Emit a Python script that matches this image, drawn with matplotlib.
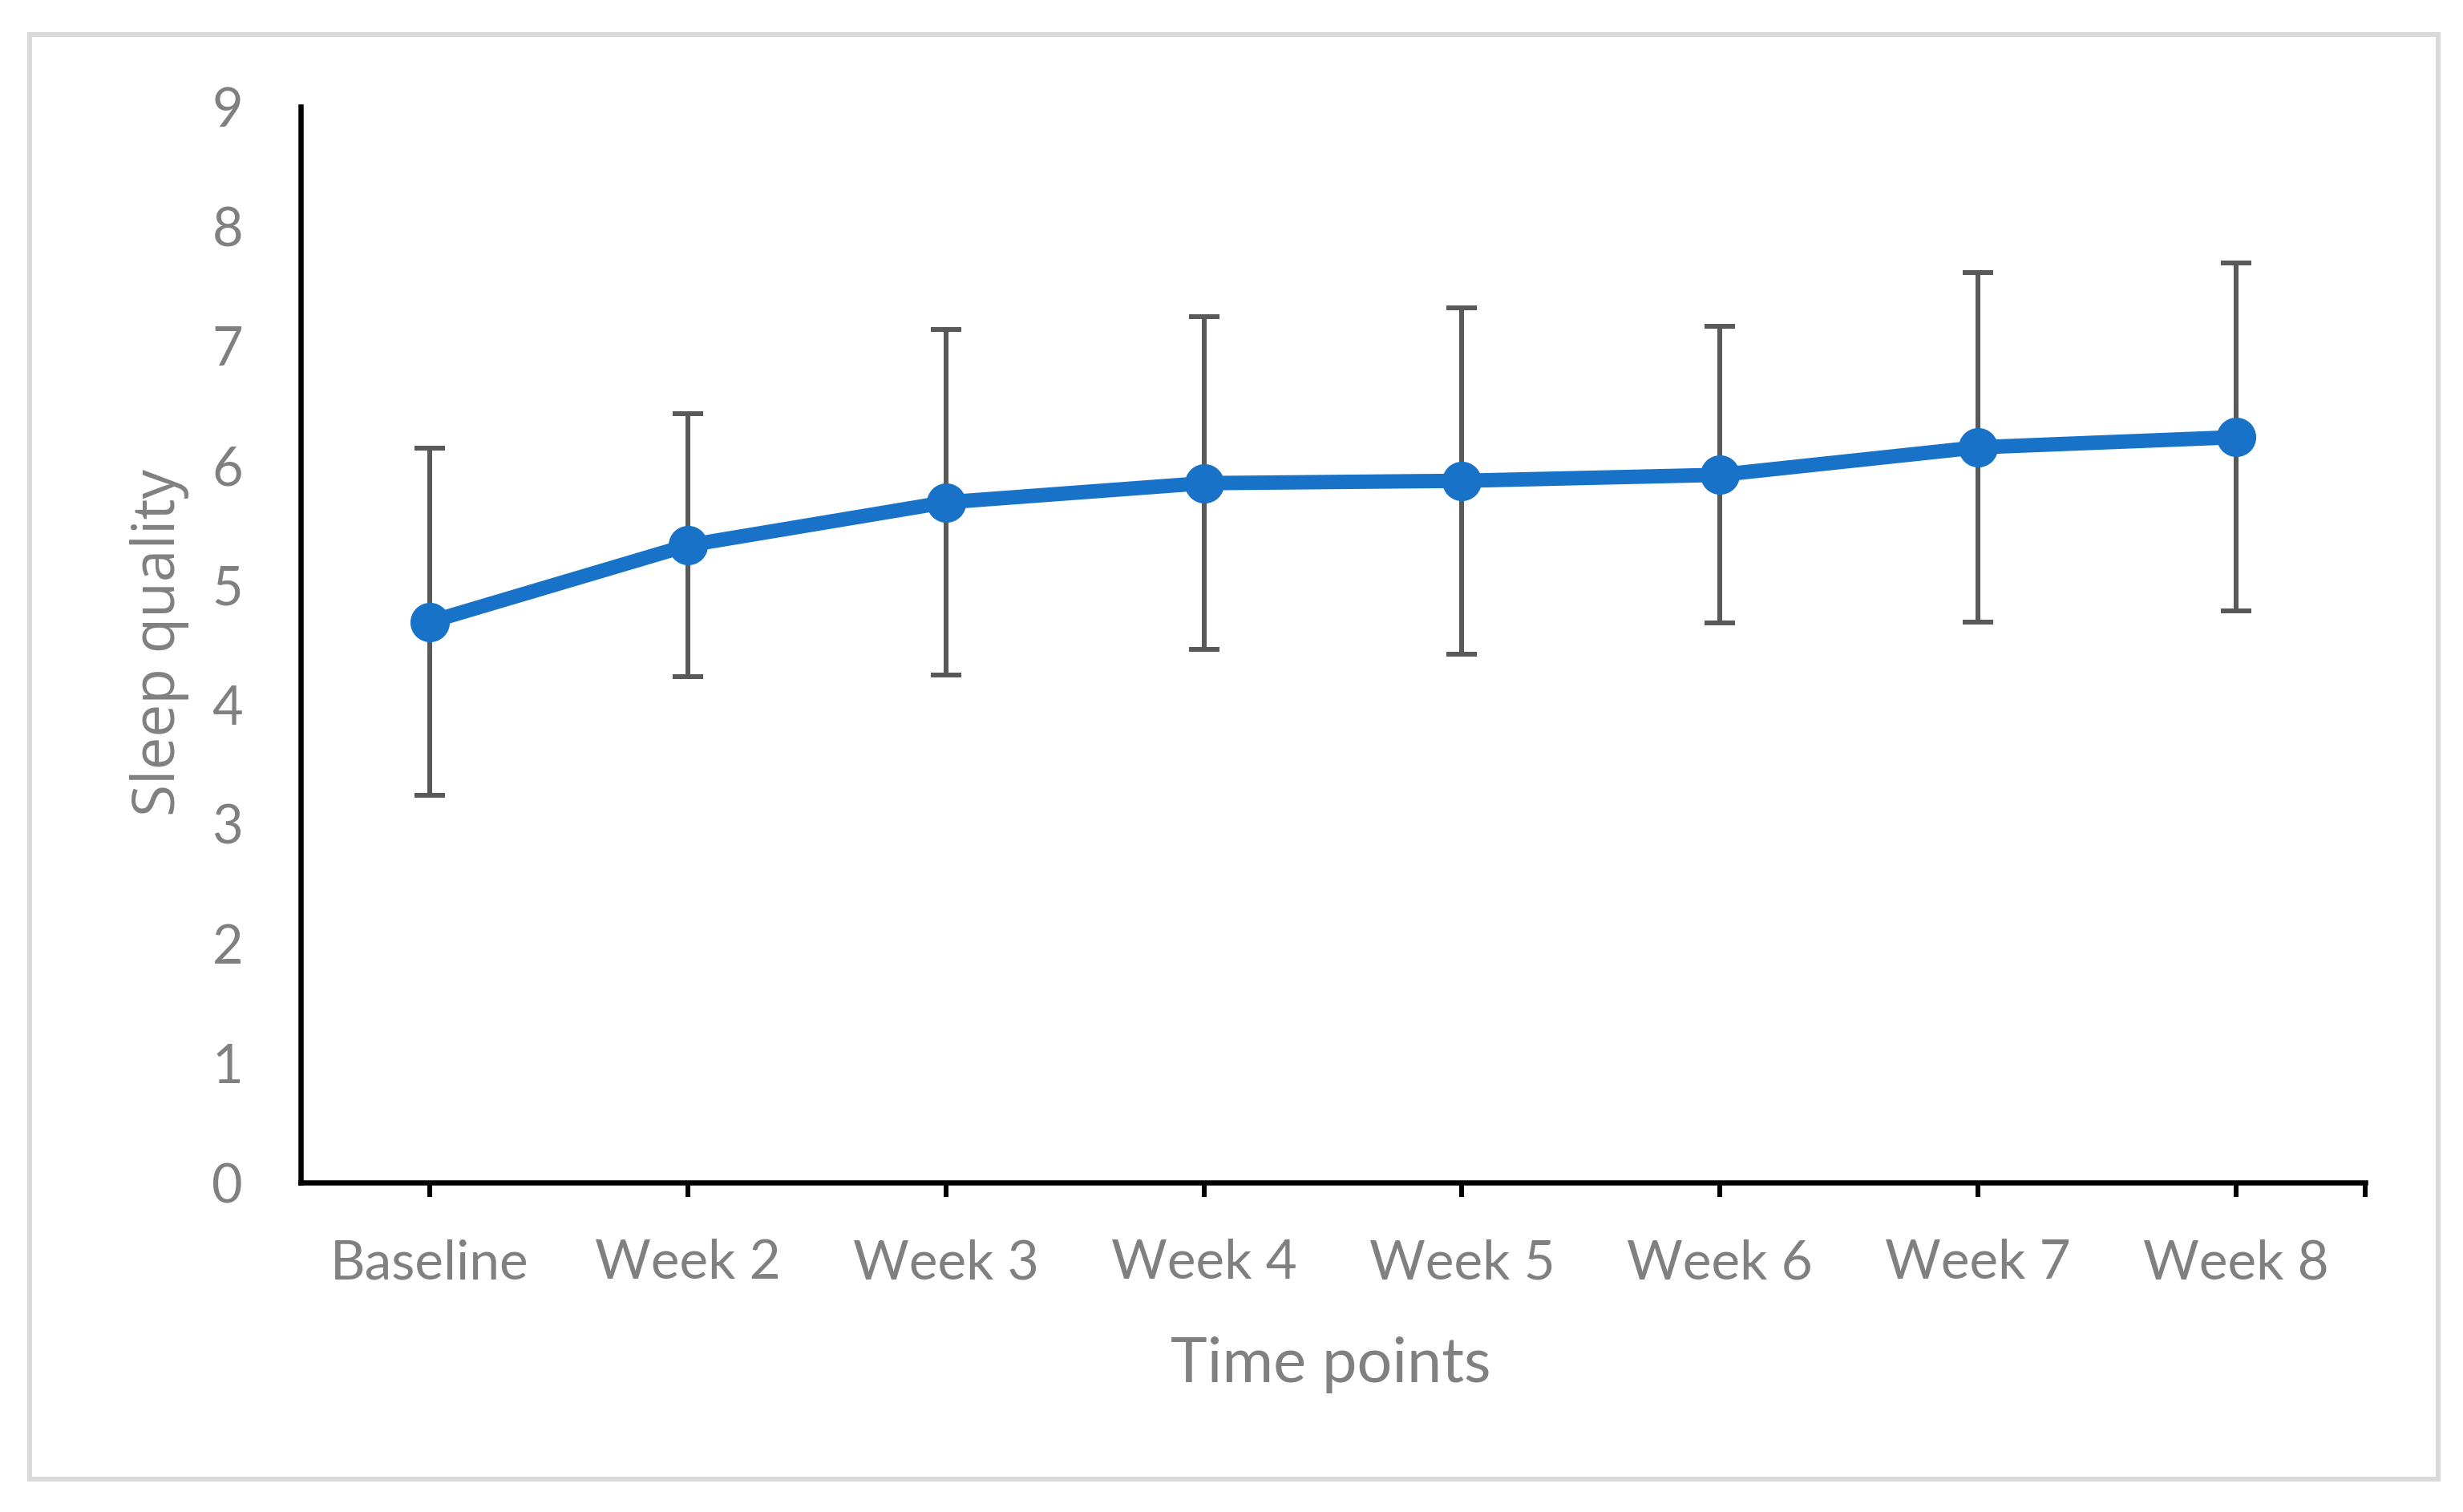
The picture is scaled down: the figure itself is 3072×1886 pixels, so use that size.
import matplotlib
matplotlib.use("Agg")
import matplotlib.pyplot as plt
from matplotlib.patches import Rectangle
import numpy as np

categories = ["Baseline", "Week 2", "Week 3", "Week 4", "Week 5", "Week 6", "Week 7", "Week 8"]
means = [4.69, 5.33, 5.69, 5.85, 5.87, 5.92, 6.15, 6.235]
sds = [1.45, 1.10, 1.445, 1.39, 1.45, 1.24, 1.46, 1.455]
y_ticks = [0, 1, 2, 3, 4, 5, 6, 7, 8, 9]

W, H = 3072, 1886
DPI = 300
fig = plt.figure(figsize=(W / DPI, H / DPI), dpi=DPI)
fig.patch.set_facecolor("white")

def px(v):
    return v * 72.0 / DPI

ax_l, ax_r, ax_b, ax_t = 375, 2950, 1475, 133
ax = fig.add_axes([ax_l / W, 1 - ax_b / H, (ax_r - ax_l) / W, (ax_b - ax_t) / H])

x = np.arange(len(categories))
blue = "#1873C8"
gray_bar = "#595959"
text_gray = "#808080"

ax.errorbar(x, means, yerr=sds, fmt="none", ecolor=gray_bar, elinewidth=px(6),
            capsize=px(19), capthick=px(6), zorder=2)
ax.plot(x, means, color=blue, lw=px(18), marker="o", markersize=px(45),
        markerfacecolor=blue, markeredgecolor=blue, zorder=3, solid_capstyle="round")

ax.set_xlim(-0.5, len(categories) - 0.5)
ax.set_ylim(0, 9)
ax.set_yticks(y_ticks)
ax.set_xticks(x)
ax.set_xticks([len(categories) - 0.5], minor=True)

tick_font = "Lato"
ax.set_xticklabels(categories, fontsize=16.2, color=text_gray, family=tick_font)
ax.set_yticklabels([str(v) for v in y_ticks], fontsize=16, color=text_gray, family=tick_font)

ax.tick_params(axis="x", which="both", length=px(18), width=px(6), color="black",
               direction="out", pad=px(52))
ax.tick_params(axis="y", length=0, pad=px(72))

for s in ["top", "right"]:
    ax.spines[s].set_visible(False)
for s in ["left", "bottom"]:
    ax.spines[s].set_linewidth(px(6.5))
    ax.spines[s].set_color("black")
ax.set_facecolor("white")

fig.text(1660 / W, 1 - 1724 / H, "Time points", fontsize=18.6, color=text_gray,
         family=tick_font, ha="center", va="baseline")
fig.text(199 / W, 1 - 801 / H, "Sleep quality", fontsize=17.5, color=text_gray,
         family="Open Sans", ha="center", va="center", rotation=90)

border = Rectangle((36.5 / W, 1 - 1845 / H), (3041 - 36.5) / W, (1845 - 43) / H,
                   transform=fig.transFigure, fill=False, edgecolor="#D9D9D9",
                   lw=px(6), zorder=0)
fig.patches.append(border)

fig.savefig("out.png", dpi=DPI, facecolor="white")
